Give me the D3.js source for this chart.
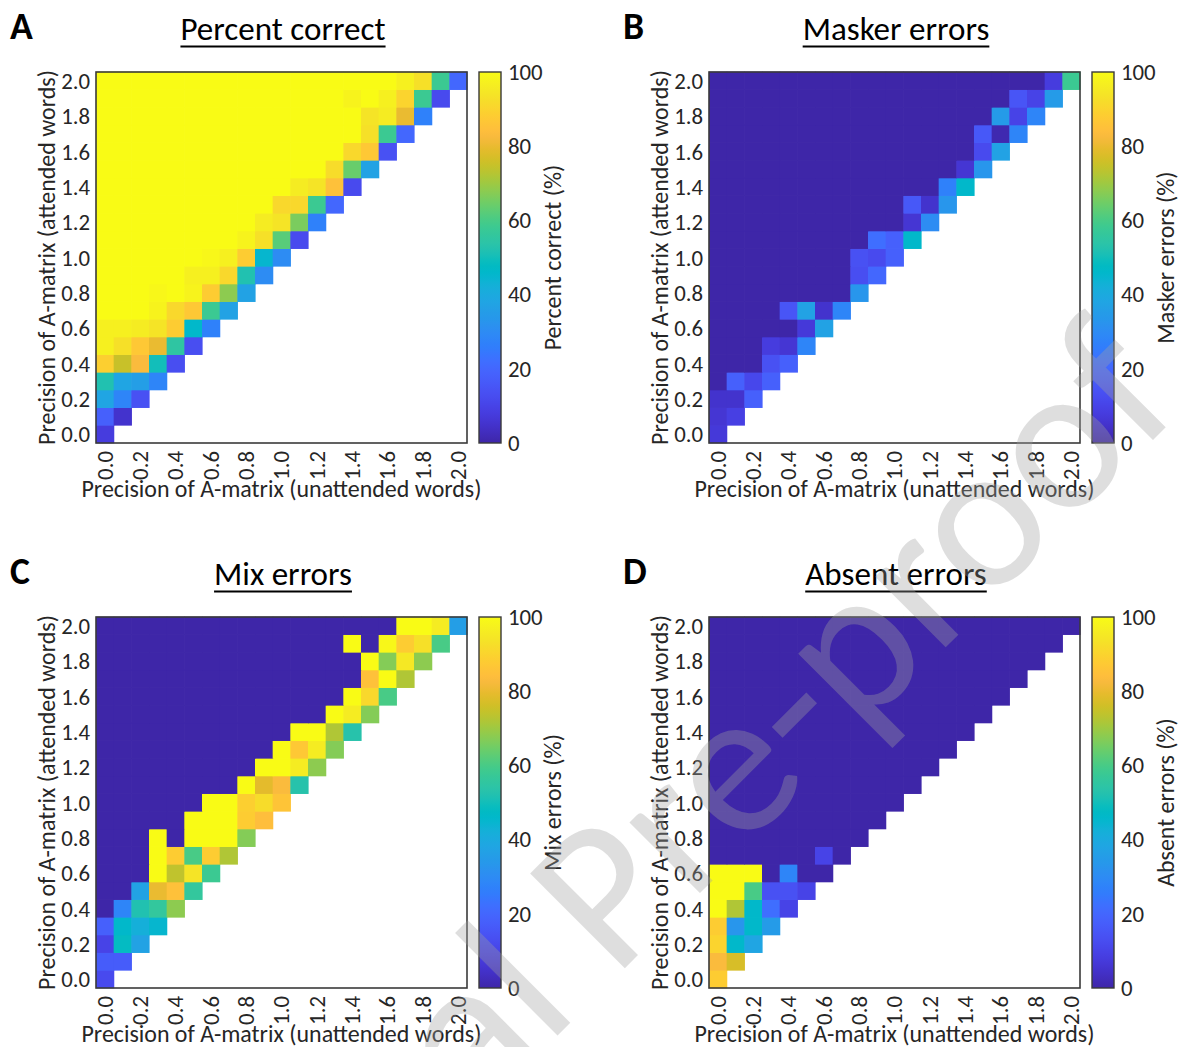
<!DOCTYPE html>
<html><head><meta charset="utf-8">
<script src="https://cdn.jsdelivr.net/npm/d3@7"></script>
<style>
html,body{margin:0;padding:0;background:#fff;}
svg{display:block;}
</style></head><body>
<svg id="chart" width="1179" height="1047"></svg>
<script>
// ---------------- data ----------------
const precisionLevels = [0.0,0.1,0.2,0.3,0.4,0.5,0.6,0.7,0.8,0.9,1.0,1.1,1.2,1.3,1.4,1.5,1.6,1.7,1.8,1.9,2.0];
const precisionTickLabels = ["0.0","0.2","0.4","0.6","0.8","1.0","1.2","1.4","1.6","1.8","2.0"];
const colorbarTicks = [0,20,40,60,80,100];
const panelLetters = ["A","B","C","D"];
const panelTitles = ["Percent correct","Masker errors","Mix errors","Absent errors"];
const colorbarLabels = ["Percent correct (%)","Masker errors (%)","Mix errors (%)","Absent errors (%)"];
const xAxisLabel = "Precision of A-matrix (unattended words)";
const yAxisLabel = "Precision of A-matrix (attended words)";
const watermarkText = "Journal Pre-proof";

// rows: attended precision 0.0 (first) .. 2.0 (last); columns: unattended 0.0 .. row value
const percentCorrect = [
 [8],
 [18,5],
 [38,28,14],
 [52,38,36,28],
 [89,75,83,50,13],
 [97,93,87,80,55,13],
 [97,97,96,94,88,46,27],
 [100,100,100,98,91,87,58,37],
 [100,100,100,99,100,98,88,68,37],
 [100,100,100,100,100,97,97,91,52,30],
 [100,100,100,100,100,100,99,97,88,45,30],
 [100,100,100,100,100,100,100,100,98,93,62,12],
 [100,100,100,100,100,100,100,100,100,96,94,66,27],
 [100,100,100,100,100,100,100,100,100,100,91,91,58,20],
 [100,100,100,100,100,100,100,100,100,100,100,96,94,85,12],
 [100,100,100,100,100,100,100,100,100,100,100,100,100,92,64,37],
 [100,100,100,100,100,100,100,100,100,100,100,100,100,100,91,87,14],
 [100,100,100,100,100,100,100,100,100,100,100,100,100,100,100,93,58,20],
 [100,100,100,100,100,100,100,100,100,100,100,100,100,100,100,94,96,80,27],
 [100,100,100,100,100,100,100,100,100,100,100,100,100,100,98,100,97,90,58,12],
 [100,100,100,100,100,100,100,100,100,100,100,100,100,100,100,100,100,97,93,58,20]
];
const maskerErrors = [
 [7],
 [6,9],
 [5,5,18],
 [0,18,11,18],
 [0,0,0,14,18],
 [0,0,0,8,6,28],
 [0,0,0,0,0,7,37],
 [0,0,0,0,15,37,5,28],
 [0,0,0,0,0,0,0,0,33],
 [0,0,0,0,0,0,0,0,13,20],
 [0,0,0,0,0,0,0,0,14,12,18],
 [0,0,0,0,0,0,0,0,0,22,18,46],
 [0,0,0,0,0,0,0,0,0,0,0,6,30],
 [0,0,0,0,0,0,0,0,0,0,0,16,5,33],
 [0,0,0,0,0,0,0,0,0,0,0,0,0,27,46],
 [0,0,0,0,0,0,0,0,0,0,0,0,0,0,6,33],
 [0,0,0,0,0,0,0,0,0,0,0,0,0,0,0,12,37],
 [0,0,0,0,0,0,0,0,0,0,0,0,0,0,0,16,1,28],
 [0,0,0,0,0,0,0,0,0,0,0,0,0,0,0,0,35,10,28],
 [0,0,0,0,0,0,0,0,0,0,0,0,0,0,0,0,0,15,10,35],
 [0,0,0,0,0,0,0,0,0,0,0,0,0,0,0,0,0,0,0,8,58]
];
const mixErrors = [
 [12],
 [17,17],
 [10,48,37],
 [18,46,42,45],
 [0,28,52,56,68],
 [0,0,37,80,85,56],
 [0,0,0,100,74,94,58],
 [0,0,0,100,88,60,88,72],
 [0,0,0,100,0,100,100,100,67],
 [0,0,0,0,0,100,100,100,88,84],
 [0,0,0,0,0,0,100,100,89,92,86],
 [0,0,0,0,0,0,0,0,100,79,83,53],
 [0,0,0,0,0,0,0,0,0,100,100,96,68],
 [0,0,0,0,0,0,0,0,0,0,100,87,96,67],
 [0,0,0,0,0,0,0,0,0,0,0,100,100,72,53],
 [0,0,0,0,0,0,0,0,0,0,0,0,0,100,96,67],
 [0,0,0,0,0,0,0,0,0,0,0,0,0,0,100,91,60],
 [0,0,0,0,0,0,0,0,0,0,0,0,0,0,0,85,100,72],
 [0,0,0,0,0,0,0,0,0,0,0,0,0,0,0,100,67,95,68],
 [0,0,0,0,0,0,0,0,0,0,0,0,0,0,100,0,99,88,93,60],
 [0,0,0,0,0,0,0,0,0,0,0,0,0,0,0,0,0,100,100,96,36]
];
const absentErrors = [
 [88],
 [83,77],
 [90,46,38],
 [88,33,46,35],
 [100,72,46,22,10],
 [100,100,60,14,14,10],
 [100,100,100,0,28,0,0],
 [0,0,0,0,0,0,10,0],
 [0,0,0,0,0,0,0,0,0],
 [0,0,0,0,0,0,0,0,0,0],
 [0,0,0,0,0,0,0,0,0,0,0],
 [0,0,0,0,0,0,0,0,0,0,0,0],
 [0,0,0,0,0,0,0,0,0,0,0,0,0],
 [0,0,0,0,0,0,0,0,0,0,0,0,0,0],
 [0,0,0,0,0,0,0,0,0,0,0,0,0,0,0],
 [0,0,0,0,0,0,0,0,0,0,0,0,0,0,0,0],
 [0,0,0,0,0,0,0,0,0,0,0,0,0,0,0,0,0],
 [0,0,0,0,0,0,0,0,0,0,0,0,0,0,0,0,0,0],
 [0,0,0,0,0,0,0,0,0,0,0,0,0,0,0,0,0,0,0],
 [0,0,0,0,0,0,0,0,0,0,0,0,0,0,0,0,0,0,0,0],
 [0,0,0,0,0,0,0,0,0,0,0,0,0,0,0,0,0,0,0,0,0]
];
const panelData = [percentCorrect, maskerErrors, mixErrors, absentErrors];

// parula colormap (MATLAB), 64 entries
const parula = [
[0.2422,0.1504,0.6603],[0.2504,0.1650,0.7076],[0.2578,0.1818,0.7511],[0.2647,0.1978,0.7952],
[0.2706,0.2147,0.8364],[0.2751,0.2342,0.8710],[0.2783,0.2559,0.8991],[0.2803,0.2782,0.9221],
[0.2813,0.3006,0.9414],[0.2810,0.3228,0.9579],[0.2795,0.3447,0.9717],[0.2760,0.3667,0.9829],
[0.2699,0.3892,0.9906],[0.2602,0.4123,0.9952],[0.2440,0.4358,0.9988],[0.2206,0.4603,0.9973],
[0.1963,0.4847,0.9892],[0.1834,0.5074,0.9798],[0.1786,0.5289,0.9682],[0.1764,0.5499,0.9520],
[0.1687,0.5703,0.9359],[0.1540,0.5902,0.9218],[0.1460,0.6091,0.9079],[0.1380,0.6276,0.8973],
[0.1248,0.6459,0.8883],[0.1113,0.6635,0.8763],[0.0952,0.6798,0.8598],[0.0689,0.6948,0.8394],
[0.0297,0.7082,0.8163],[0.0036,0.7203,0.7917],[0.0067,0.7312,0.7660],[0.0433,0.7411,0.7394],
[0.0964,0.7500,0.7120],[0.1408,0.7584,0.6842],[0.1717,0.7670,0.6554],[0.1938,0.7758,0.6251],
[0.2161,0.7843,0.5923],[0.2470,0.7918,0.5567],[0.2906,0.7973,0.5188],[0.3406,0.8008,0.4789],
[0.3909,0.8029,0.4354],[0.4456,0.8024,0.3909],[0.5044,0.7993,0.3480],[0.5616,0.7942,0.3045],
[0.6174,0.7876,0.2612],[0.6720,0.7793,0.2227],[0.7242,0.7698,0.1910],[0.7738,0.7598,0.1646],
[0.8203,0.7498,0.1535],[0.8634,0.7406,0.1596],[0.9035,0.7330,0.1774],[0.9393,0.7288,0.2100],
[0.9728,0.7298,0.2394],[0.9956,0.7434,0.2371],[0.9970,0.7659,0.2199],[0.9952,0.7893,0.2028],
[0.9892,0.8136,0.1885],[0.9786,0.8386,0.1766],[0.9676,0.8639,0.1643],[0.9610,0.8890,0.1537],
[0.9597,0.9135,0.1423],[0.9628,0.9373,0.1265],[0.9691,0.9606,0.1064],[0.9769,0.9839,0.0805]
].map(c => d3.rgb(c[0]*255, c[1]*255, c[2]*255).formatHex());

// ---------------- drawing ----------------
const svg = d3.select("#chart");
const FONT = "Carlito, Lato, 'Open Sans', sans-serif";
const TXT = "#262626";

// calibrate font size so the long axis label gets its reference width
const probe = svg.append("text").style("font-family", FONT).style("font-size", "100px").text(xAxisLabel);
const fs = 400 / (probe.node().getComputedTextLength() * 0.21);
probe.remove();
const S = s => (s * fs).toFixed(2) + "px";

const interp = d3.piecewise(d3.interpolateRgb, parula);
const color = d3.scaleSequential(interp).domain([0, 100]);

const defs = svg.append("defs");
const grad = defs.append("linearGradient").attr("id", "parulaGrad")
  .attr("x1", 0).attr("y1", 1).attr("x2", 0).attr("y2", 0);
grad.selectAll("stop").data(parula).join("stop")
  .attr("offset", (d, i) => i / (parula.length - 1))
  .attr("stop-color", d => d);

const PLOT = 371;
const origins = [[96, 72], [709, 72], [96, 617], [709, 617]];

panelData.forEach((data, p) => {
  const [px, py] = origins[p];
  const g = svg.append("g");

  const x = d3.scaleBand().domain(precisionLevels).range([px, px + PLOT]);
  const y = d3.scaleBand().domain(precisionLevels).range([py + PLOT, py]);
  const bw = x.bandwidth();

  const cells = [];
  data.forEach((row, r) => row.forEach((v, c) => cells.push({ r, c, v })));
  g.append("g").selectAll("rect").data(cells).join("rect")
    .attr("x", d => x(precisionLevels[d.c]))
    .attr("y", d => y(precisionLevels[d.r]) - 0.3)
    .attr("width", bw + 0.6)
    .attr("height", bw + 0.6)
    .attr("fill", d => color(d.v));

  // frame
  g.append("rect").attr("x", px).attr("y", py).attr("width", PLOT).attr("height", PLOT)
    .attr("fill", "none").attr("stroke", "#3a3a3a").attr("stroke-width", 1.6);

  // x axis
  const xa = g.append("g").attr("transform", `translate(0,${py + PLOT})`)
    .call(d3.axisBottom(x).tickValues(precisionTickLabels.map(Number))
      .tickFormat(d => d.toFixed(1)).tickSize(0));
  xa.select(".domain").remove();
  xa.selectAll("text")
    .attr("transform", "rotate(-90)").attr("text-anchor", "end")
    .attr("x", -8).attr("y", 0).attr("dy", "0.35em")
    .attr("fill", TXT).style("font-family", FONT).style("font-size", S(20));

  // y axis
  const ya = g.append("g").attr("transform", `translate(${px},0)`)
    .call(d3.axisLeft(y).tickValues(precisionTickLabels.map(Number))
      .tickFormat(d => d.toFixed(1)).tickSize(0).tickPadding(6));
  ya.select(".domain").remove();
  ya.selectAll("text").attr("fill", TXT).attr("dy", "0.36em")
    .style("font-family", FONT).style("font-size", S(20));

  // axis labels
  g.append("text").attr("x", px + PLOT / 2).attr("y", py + PLOT + 54)
    .attr("text-anchor", "middle").attr("fill", TXT)
    .style("font-family", FONT).style("font-size", S(21)).text(xAxisLabel);
  g.append("text").attr("transform", `translate(${px - 41},${py + PLOT / 2}) rotate(-90)`)
    .attr("text-anchor", "middle").attr("fill", TXT)
    .style("font-family", FONT).style("font-size", S(21)).text(yAxisLabel);

  // colorbar
  const cbx = px + PLOT + 12, cbw = 22;
  g.append("rect").attr("x", cbx).attr("y", py).attr("width", cbw).attr("height", PLOT)
    .attr("fill", "url(#parulaGrad)").attr("stroke", "#3a3a3a").attr("stroke-width", 1.4);
  const cs = d3.scaleLinear().domain([0, 100]).range([py + PLOT, py]);
  const ca = g.append("g").attr("transform", `translate(${cbx + cbw},0)`)
    .call(d3.axisRight(cs).tickValues(colorbarTicks).tickSize(0).tickPadding(7));
  ca.select(".domain").remove();
  ca.selectAll("text").attr("fill", TXT).style("font-family", FONT).style("font-size", S(20));
  g.append("text").attr("transform", `translate(${cbx + cbw + 52},${py + PLOT / 2}) rotate(-90)`)
    .attr("text-anchor", "middle").attr("dy", "0.35em").attr("fill", TXT)
    .style("font-family", FONT).style("font-size", S(21)).text(colorbarLabels[p]);

  // panel letter
  g.append("text").attr("x", px - 86).attr("y", py - 33)
    .attr("fill", "#000").style("font-family", FONT).style("font-weight", "bold")
    .style("font-size", S(33)).text(panelLetters[p]);

  // title with underline
  const t = g.append("text").attr("x", px + 187).attr("y", py - 32)
    .attr("text-anchor", "middle").attr("fill", "#000")
    .style("font-family", FONT).style("font-size", S(29)).text(panelTitles[p]);
  const tw = t.node().getComputedTextLength();
  g.append("line").attr("x1", px + 187 - tw / 2).attr("x2", px + 187 + tw / 2)
    .attr("y1", py - 25.5).attr("y2", py - 25.5).attr("stroke", "#000").attr("stroke-width", 2);
});

// watermark: sized so the dash and the final "f" land where they sit in the reference
const wm = svg.append("text").text(watermarkText)
  .style("font-family", FONT).style("font-size", "100px")
  .attr("fill", "#a0a0a0").attr("fill-opacity", 0.35);
const dashIdx = watermarkText.indexOf("-"), fIdx = watermarkText.length - 1;
const cen = i => { const e = wm.node().getExtentOfChar(i); return e.x + e.width / 2; };
const wmSize = 100 * 463 / (cen(fIdx) - cen(dashIdx));
wm.style("font-size", wmSize + "px");
const dashC = cen(dashIdx);
wm.attr("transform", `translate(836,757) rotate(-45) translate(${-dashC},0)`);
</script>
</body></html>
